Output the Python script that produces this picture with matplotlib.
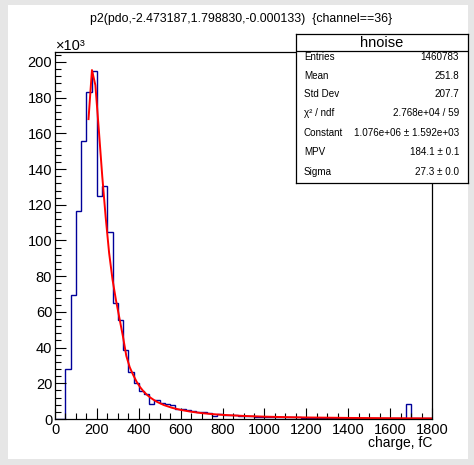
import numpy as np
import matplotlib
matplotlib.use('Agg')
import matplotlib.pyplot as plt
from matplotlib.patches import Rectangle
from matplotlib.ticker import MultipleLocator

plt.rcParams['font.family'] = ['Liberation Sans', 'DejaVu Sans']

# histogram: 25 fC bins from 0 to 1800, counts in units of 10^3
bin_edges = np.arange(0, 1825, 25)
counts_k = [0, 0, 27.9, 69.3, 116.5, 156, 183.3, 195, 124.7, 130.3, 105, 65.2,
            55.2, 38.6, 26.4, 20.2, 15.9, 14.2, 8.6, 10.7, 9.0, 8.2, 7.9, 5.8,
            5.6, 5.2, 4.6, 4.2, 3.7, 3.4, 1.9, 2.6,
            2.3, 2.1, 2.0, 1.8, 1.7, 1.5, 1.4, 1.3, 1.25, 1.15, 1.1, 1.0,
            0.95, 0.9, 0.85, 0.8, 0.75, 0.7, 0.7, 0.65, 0.6, 0.6, 0.55, 0.55,
            0.5, 0.5, 0.5, 0.45, 0.45, 0.45, 0.4, 0.4, 0.4, 0.4, 0.35, 8.6,
            0.3, 0.3, 0.3, 0.3]

# landau fit curve (x in fC, y in 10^3)
fit_x = [160, 176.4, 192.8, 209.2, 225.6, 242, 258.4, 274.8, 291.2, 307.6,
         324, 340.4, 356.8, 373.2, 389.6, 406, 422.4, 438.8, 455.2, 471.6,
         488, 520, 560, 600, 650, 700, 750, 800, 900, 1000, 1100, 1200,
         1400, 1600, 1800]
fit_y = [168, 195.5, 187, 162, 136, 113, 93, 78, 66.5, 56.5,
         46.5, 35.4, 29.0, 24.7, 20.9, 17.9, 15.5, 13.6, 12.0, 10.7,
         9.55, 7.8, 6.24, 5.1, 4.07, 3.3, 2.75, 2.32, 1.72, 1.32, 1.05, 0.86,
         0.6, 0.44, 0.34]

title = 'p2(pdo,-2.473187,1.798830,-0.000133)  {channel==36}'
stats_name = 'hnoise'
stats_labels = ['Entries', 'Mean', 'Std Dev', 'χ² / ndf', 'Constant', 'MPV', 'Sigma']
stats_values = ['1460783', '251.8', '207.7', '2.768e+04 / 59',
                '1.076e+06 ± 1.592e+03', '184.1 ± 0.1', '27.3 ± 0.0']

W, H = 474, 465
fig = plt.figure(figsize=(W / 100, H / 100), dpi=100, facecolor='#e6e6e6')
fig.patches.append(Rectangle((8 / W, 1 - 459 / H), 460 / W, 454 / H,
                             transform=fig.transFigure, facecolor='white',
                             edgecolor='none', zorder=-10))

ax = fig.add_axes([55 / W, 1 - 419 / H, 377 / W, 367 / H])
ax.stairs(counts_k, bin_edges, color='#000099', lw=1.0, baseline=0)
ax.plot(fit_x, fit_y, color='red', lw=1.4)

ax.set_xlim(0, 1800)
ax.set_ylim(0, 205.6)
ax.xaxis.set_major_locator(MultipleLocator(200))
ax.xaxis.set_minor_locator(MultipleLocator(50))
ax.yaxis.set_major_locator(MultipleLocator(20))
ax.yaxis.set_minor_locator(MultipleLocator(4))
ax.tick_params(which='both', direction='in', width=0.8, labelsize=10.5)
ax.tick_params(which='major', length=8)
ax.tick_params(which='minor', length=4)
ax.tick_params(axis='y', pad=2)
ax.tick_params(axis='x', pad=3)
for s in ax.spines.values():
    s.set_linewidth(0.9)

fig.text(241 / W, 1 - 19 / H, title, ha='center', va='center', fontsize=8.9)
fig.text(56 / W, 1 - 46 / H, '×10³', ha='left', va='center', fontsize=10.5)
fig.text(432 / W, 1 - 443 / H, 'charge, fC', ha='right', va='center', fontsize=10)

# stats box
bx = fig.add_axes([296 / W, 1 - 183 / H, 172 / W, 149 / H])
bx.set_xticks([])
bx.set_yticks([])
for s in bx.spines.values():
    s.set_linewidth(0.9)
bx.set_xlim(0, 172)
bx.set_ylim(183, 34)
bx.axhline(51, color='black', lw=0.9)
bx.text(86, 43, stats_name, ha='center', va='center', fontsize=10.5)
row_y = [57, 76, 94, 113, 133, 152, 172]
for yy, lab, val in zip(row_y, stats_labels, stats_values):
    bx.text(8, yy, lab, ha='left', va='center', fontsize=7.1)
    bx.text(163, yy, val, ha='right', va='center', fontsize=7.1)

fig.savefig('out.png', dpi=100, facecolor=fig.get_facecolor())
